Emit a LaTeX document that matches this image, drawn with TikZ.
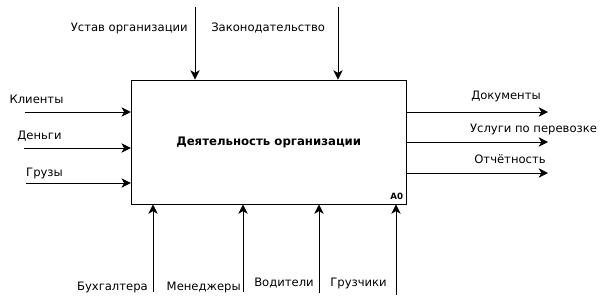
\documentclass[tikz,border=0pt]{standalone}
\usepackage{fontspec}
\setmainfont{DejaVu Sans}
\usetikzlibrary{arrows.meta, positioning}
\tikzset{
    actbox/.style={rectangle, draw=black, line width=0.7pt, inner sep=0pt,
                   minimum width=206.25pt, minimum height=93pt,
                   font=\fontsize{8.8}{10}\selectfont\bfseries},
    lbl/.style={inner sep=0pt, font=\fontsize{8.7}{10}\selectfont},
    arrow/.style={line width=0.7pt,-{Stealth[length=7pt, width=7pt, inset=2pt]}}
}
\begin{document}
\begin{tikzpicture}[x=0.75pt, y=-0.75pt]
    \useasboundingbox (0,0) rectangle (604,305);

    % Activity
    \node[actbox] (act) at (268.75,142) {Деятельность организации};
    \node[lbl, font=\fontsize{6.5}{7}\selectfont\bfseries, anchor=south east] (a0) at (403.5,200) {A0};

    % Controls
    \coordinate (ctl1) at (195,7);
    \coordinate (ctl2) at (338,7);
    \node[lbl, anchor=east] (ustav) at (188,28) {Устав организации};
    \node[lbl, anchor=west] (zakon) at (211,28) {Законодательство};

    % Inputs
    \coordinate (in1) at (25,112);
    \coordinate (in2) at (24,148);
    \coordinate (in3) at (26,183);
    \node[lbl] (klient) at (36.5,99) {Клиенты};
    \node[lbl] (dengi) at (39.5,136) {Деньги};
    \node[lbl] (gruz) at (44.5,173) {Грузы};

    % Outputs
    \coordinate (out1) at (548,112);
    \coordinate (out2) at (548,142);
    \coordinate (out3) at (548,173);
    \node[lbl] (docs) at (506,96) {Документы};
    \node[lbl] (uslugi) at (533.5,129) {Услуги по перевозке};
    \node[lbl] (otchet) at (510,159) {Отчётность};

    % Mechanisms
    \coordinate (mech1) at (153,292);
    \coordinate (mech2) at (243,292);
    \coordinate (mech3) at (319,293);
    \coordinate (mech4) at (396,295);
    \node[lbl, anchor=east] (buh) at (148,287) {Бухгалтера};
    \node[lbl, anchor=east] (menedzh) at (241,287) {Менеджеры};
    \node[lbl, anchor=east] (vodit) at (314,283) {Водители};
    \node[lbl, anchor=east] (gruzch) at (387,283) {Грузчики};

    % Arrows
    \draw[arrow] (ctl1) -- (ctl1 |- act.north);
    \draw[arrow] (ctl2) -- (ctl2 |- act.north);
    \draw[arrow] (in1) -- (act.west |- in1);
    \draw[arrow] (in2) -- (act.west |- in2);
    \draw[arrow] (in3) -- (act.west |- in3);
    \draw[arrow] (act.east |- out1) -- (out1);
    \draw[arrow] (act.east |- out2) -- (out2);
    \draw[arrow] (act.east |- out3) -- (out3);
    \draw[arrow] (mech1) -- (mech1 |- act.south);
    \draw[arrow] (mech2) -- (mech2 |- act.south);
    \draw[arrow] (mech3) -- (mech3 |- act.south);
    \draw[arrow] (mech4) -- (mech4 |- act.south);
\end{tikzpicture}
\end{document}
